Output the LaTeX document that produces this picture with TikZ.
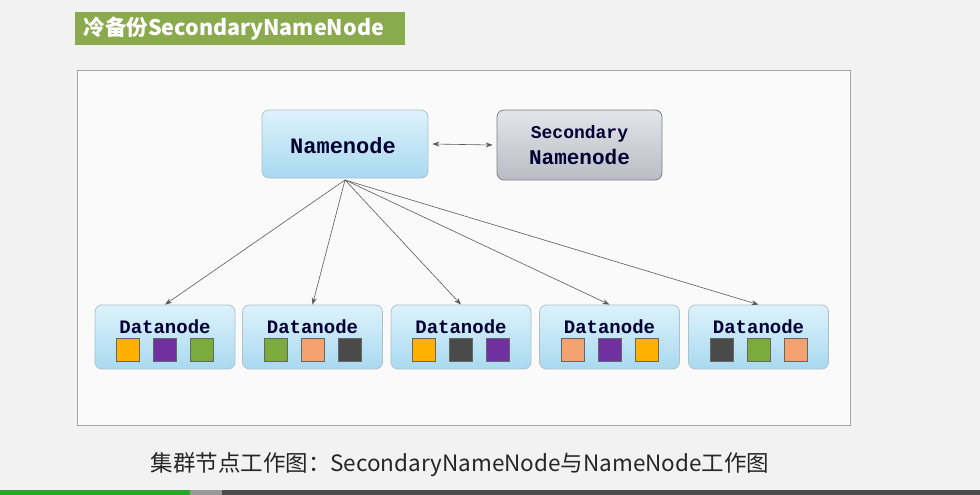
\documentclass[tikz,border=0pt]{standalone}
\usepackage{fontspec}
\setmainfont{Liberation Sans}
\newfontfamily\cjk{Noto Sans CJK SC}
\newfontfamily\mono{Liberation Mono}
\usetikzlibrary{arrows.meta}
\definecolor{bg}{HTML}{F2F2F2}
\definecolor{ttl}{HTML}{8AAA4E}
\definecolor{boxb}{HTML}{A9D9F0}
\definecolor{boxbt}{HTML}{DDF2FB}
\definecolor{boxg}{HTML}{B9BCC4}
\definecolor{boxgt}{HTML}{E4E5E9}
\definecolor{cO}{HTML}{FFB000}
\definecolor{cP}{HTML}{7030A0}
\definecolor{cG}{HTML}{7AAB3C}
\definecolor{cS}{HTML}{F4A26F}
\definecolor{cD}{HTML}{4A4A4A}
\tikzset{
 blue/.style={draw=boxb!70!black!60, rounded corners=7pt, top color=boxbt, bottom color=boxb, line width=0.8pt},
 gray/.style={draw=gray, rounded corners=7pt, top color=boxgt, bottom color=boxg, line width=0.8pt},
 sq/.style={draw=black!60, line width=0.6pt, minimum size=23pt, inner sep=0pt},
 arr/.style={draw=black!65, line width=0.6pt, -{Stealth[length=7pt,width=5pt]}},
 lbl/.style={font=\mono\bfseries, text=black!80!blue},
}
\begin{document}
\begin{tikzpicture}[x=1pt,y=-1pt]
\fill[bg] (0,0) rectangle (980,495);
\useasboundingbox (0,0) rectangle (980,495);
\fill[ttl] (75,12) rectangle (405,45);
\node[font=\cjk\bfseries\fontsize{21.5}{24}\selectfont, text=white, anchor=west] (title) at (80,28.5) {冷备份SecondaryNameNode};
\draw[gray!70, fill=white!60!bg, line width=0.8pt] (77,70) rectangle (850,425);
\node[blue, minimum width=166pt, minimum height=68pt] (nn) at (345,144) {};
\node[lbl, font=\mono\bfseries\fontsize{22}{24}\selectfont] (nnt) at (343,146) {Namenode};
\node[gray, minimum width=165pt, minimum height=70pt] (sn) at (579.5,145) {};
\node[lbl, align=center, font=\mono\bfseries\fontsize{18}{26}\selectfont] (snt) at (579.5,145) {Secondary\\\fontsize{21}{26}\selectfont Namenode};
\path (nn.east) ++(4,0) coordinate (a1) (sn.west) ++(-4,0) coordinate (a2);
\draw[black!65, line width=0.6pt, {Stealth[length=7pt,width=5pt]}-{Stealth[length=7pt,width=5pt]}] (a1) -- (a2);
\coordinate (src) at (345,180);
\foreach \i/\x/\a/\b/\c in {1/165/cO/cP/cG, 2/312.5/cG/cS/cD, 3/461/cO/cD/cP, 4/609.5/cS/cP/cO, 5/758.5/cD/cG/cS}{
  \node[blue, minimum width=140pt, minimum height=64pt] (d\i) at (\x,337) {};
  \node[lbl, font=\mono\bfseries\fontsize{19}{20}\selectfont] (dt\i) at (\x,327) {Datanode};
  \node[sq, fill=\a] (s\i a) at (\x-37,349.5) {};
  \node[sq, fill=\b] (s\i b) at (\x,349.5) {};
  \node[sq, fill=\c] (s\i c) at (\x+37,349.5) {};
  \draw[arr] (src) -- (d\i.north);
}
\node[font=\cjk\fontsize{22.5}{26}\selectfont, text=black!85] (cap) at (460,465) {集群节点工作图：SecondaryNameNode与NameNode工作图};
\fill[green!60!black!85] (0,490) rectangle (190,495);
\fill[gray!80] (190,490) rectangle (222,495);
\fill[black!70] (222,490) rectangle (980,495);
\end{tikzpicture}
\end{document}
